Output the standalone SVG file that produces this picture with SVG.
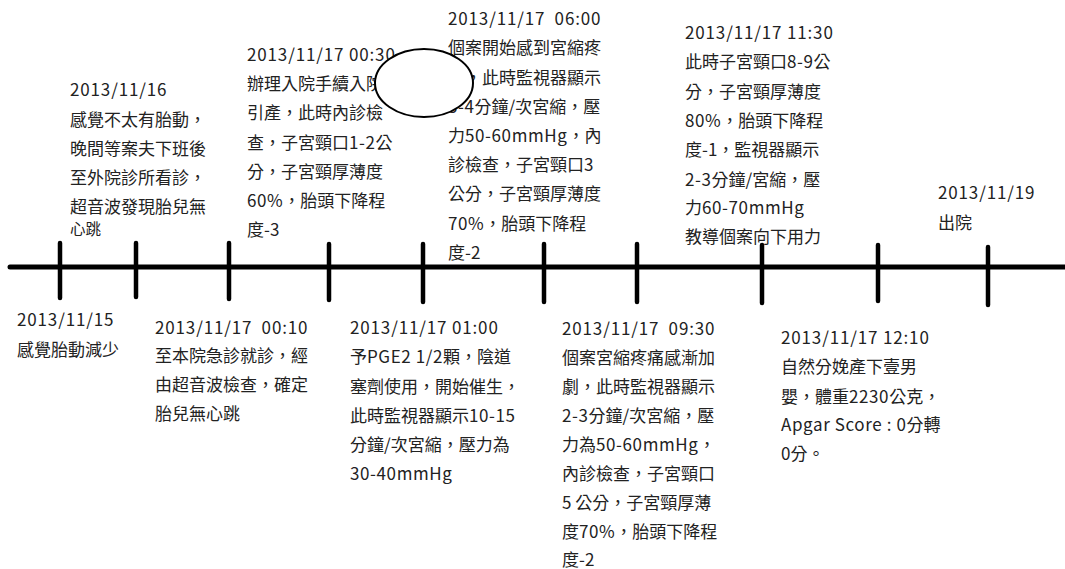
<svg xmlns="http://www.w3.org/2000/svg" width="1065" height="569" viewBox="0 0 1065 569" xml:lang="zh-Hant-TW" lang="zh-Hant-TW">
<style>
text{font-family:"Noto Sans CJK TC","Noto Sans",sans-serif;font-size:17px;fill:#222;}
.sm{font-size:15.5px;}
.d{letter-spacing:0.85px;}
.l{letter-spacing:0.6px;}
.axis{stroke:#000;stroke-width:5;stroke-linecap:round;fill:none;}
.tick{stroke:#000;stroke-width:4.5;stroke-linecap:round;fill:none;}
</style>
<rect width="1065" height="569" fill="#fff"/>
<g id="connectors">
<line class="axis" x1="10" y1="267" x2="1068" y2="267"/>
<line class="tick" x1="60" y1="243" x2="60" y2="298"/>
<line class="tick" x1="136" y1="243" x2="136" y2="297"/>
<line class="tick" x1="229" y1="243" x2="229" y2="299"/>
<line class="tick" x1="329" y1="244" x2="329" y2="300"/>
<line class="tick" x1="423" y1="244" x2="423" y2="302"/>
<line class="tick" x1="544" y1="244" x2="544" y2="302"/>
<line class="tick" x1="637" y1="244" x2="637" y2="302"/>
<line class="tick" x1="762" y1="245" x2="762" y2="303"/>
<line class="tick" x1="878" y1="245" x2="878" y2="301"/>
<line class="tick" x1="988" y1="247" x2="988" y2="305"/>
</g>
<g id="e1115">
<text class="d" x="17" y="326">2013/11/15</text>
<text x="17" y="356">感覺胎動減少</text>
</g>
<g id="e1116">
<text class="d" x="70" y="96">2013/11/16</text>
<text x="70" y="126">感覺不太有胎動，</text>
<text x="70" y="155">晚間等案夫下班後</text>
<text x="70" y="184">至外院診所看診，</text>
<text x="70" y="213">超音波發現胎兒無</text>
<text class="sm" x="70" y="235">心跳</text>
</g>
<g id="e0010">
<text class="d" x="155" y="334" xml:space="preserve">2013/11/17  00:10</text>
<text x="155" y="362">至本院急診就診，經</text>
<text x="155" y="391">由超音波檢查，確定</text>
<text x="155" y="420">胎兒無心跳</text>
</g>
<g id="e0030">
<text class="d" x="247" y="61">2013/11/17 00:30</text>
<text x="247" y="90">辦理入院手續入院</text>
<text x="247" y="119">引產，此時內診檢</text>
<text x="247" y="149">查，子宮頸口<tspan class="l">1-2</tspan>公</text>
<text x="247" y="178">分，子宮頸厚薄度</text>
<text x="247" y="207"><tspan class="l">60%</tspan>，胎頭下降程</text>
<text x="247" y="236">度-3</text>
</g>
<g id="e0100">
<text class="d" x="350" y="334">2013/11/17 01:00</text>
<text x="350" y="363">予<tspan class="l">PGE2 1/2</tspan>顆，陰道</text>
<text x="350" y="393">塞劑使用，開始催生，</text>
<text x="350" y="422">此時監視器顯示<tspan class="l">10-15</tspan></text>
<text x="350" y="451">分鐘/次宮縮，壓力為</text>
<text class="l" x="350" y="480">30-40mmHg</text>
</g>
<g id="e0600">
<text class="d" x="448" y="25" xml:space="preserve">2013/11/17  06:00</text>
<text x="448" y="54">個案開始感到宮縮疼</text>
<text x="448" y="84">痛，此時監視器顯示</text>
<text x="448" y="113"><tspan class="l">3-4</tspan>分鐘/次宮縮，壓</text>
<text x="448" y="142">力<tspan class="l">50-60mmHg</tspan>，內</text>
<text x="448" y="171">診檢查，子宮頸口3</text>
<text x="448" y="200">公分，子宮頸厚薄度</text>
<text x="448" y="230"><tspan class="l">70%</tspan>，胎頭下降程</text>
<text x="448" y="259">度-2</text>
</g>
<g id="e0930">
<text class="d" x="562" y="335" xml:space="preserve">2013/11/17  09:30</text>
<text x="562" y="364">個案宮縮疼痛感漸加</text>
<text x="562" y="393">劇，此時監視器顯示</text>
<text x="562" y="422"><tspan class="l">2-3</tspan>分鐘/次宮縮，壓</text>
<text x="562" y="451">力為<tspan class="l">50-60mmHg</tspan>，</text>
<text x="562" y="480">內診檢查，子宮頸口</text>
<text x="562" y="509">5 公分，子宮頸厚薄</text>
<text x="562" y="538">度<tspan class="l">70%</tspan>，胎頭下降程</text>
<text x="562" y="566">度-2</text>
</g>
<g id="e1130">
<text class="d" x="685" y="39">2013/11/17 11:30</text>
<text x="685" y="68">此時子宮頸口<tspan class="l">8-9</tspan>公</text>
<text x="685" y="98">分，子宮頸厚薄度</text>
<text x="685" y="127"><tspan class="l">80%</tspan>，胎頭下降程</text>
<text x="685" y="156">度-1，監視器顯示</text>
<text x="685" y="186"><tspan class="l">2-3</tspan>分鐘/宮縮，壓</text>
<text x="685" y="214">力<tspan class="l">60-70mmHg</tspan></text>
<text x="685" y="243">教導個案向下用力</text>
</g>
<g id="e1210">
<text class="d" x="781" y="344">2013/11/17 12:10</text>
<text x="781" y="373">自然分娩產下壹男</text>
<text x="781" y="403">嬰，體重<tspan class="l">2230</tspan>公克，</text>
<text x="781" y="431"><tspan class="l">Apgar Score : 0</tspan>分轉</text>
<text x="781" y="460">0分。</text>
</g>
<g id="e1119">
<text class="d" x="938" y="199">2013/11/19</text>
<text x="938" y="229">出院</text>
</g>
<g id="mask">
<ellipse cx="424" cy="83" rx="49" ry="34" fill="#fff" stroke="#000" stroke-width="2"/>
</g>
</svg>
